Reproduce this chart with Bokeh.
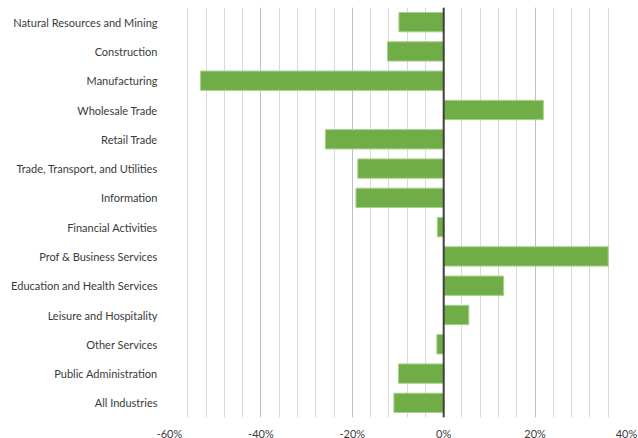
from bokeh.plotting import figure
from bokeh.models import FactorRange, Range1d, FixedTicker, NumeralTickFormatter, Span, ColumnDataSource
from bokeh.embed import file_html
from bokeh.resources import INLINE

categories = [
    "Natural Resources and Mining", "Construction", "Manufacturing", "Wholesale Trade",
    "Retail Trade", "Trade, Transport, and Utilities", "Information", "Financial Activities",
    "Prof & Business Services", "Education and Health Services", "Leisure and Hospitality",
    "Other Services", "Public Administration", "All Industries",
]
values = [-0.098, -0.123, -0.532, 0.218, -0.259, -0.188, -0.192, -0.014,
          0.360, 0.131, 0.055, -0.015, -0.099, -0.109]
major_ticks = [-0.6, -0.4, -0.2, 0.0, 0.2, 0.4]
minor_ticks = [round(-0.6 + 0.04 * i, 2) for i in range(26)]

src = ColumnDataSource(dict(cat=categories, val=values))

p = figure(
    y_range=FactorRange(factors=list(reversed(categories))),
    x_range=Range1d(-0.6, 0.4),
    frame_width=457, frame_height=410,
    output_backend="svg", toolbar_location=None,
    min_border_top=7, min_border_left=169, min_border_right=12, min_border_bottom=0,
)
p.outline_line_color = None
p.background_fill_color = "white"

p.hbar(y="cat", right="val", left=0, height=0.66, source=src,
       fill_color="#70AD47", line_color="#A9D18E", line_width=1)

p.add_layout(Span(location=0, dimension="height", line_color="#404040", line_width=2))

p.xaxis.ticker = FixedTicker(ticks=major_ticks, minor_ticks=minor_ticks)
p.xaxis.formatter = NumeralTickFormatter(format="0%")
p.xgrid.grid_line_color = "#BFBFBF"
p.xgrid.minor_grid_line_color = "#D9D9D9"
p.xgrid.grid_line_width = 1
p.xgrid.minor_grid_line_width = 1
p.ygrid.grid_line_color = None

for ax in (p.xaxis, p.yaxis):
    ax.axis_line_color = None
    ax.major_tick_line_color = None
    ax.minor_tick_line_color = None
    ax.major_tick_out = 0
    ax.major_tick_in = 0
    ax.minor_tick_out = 0
    ax.minor_tick_in = 0
    ax.major_label_text_font = "Lato"
    ax.major_label_text_font_size = "11px"
    ax.major_label_text_color = "#3A3A3A"

p.xaxis.major_label_standoff = 9
p.yaxis.major_label_standoff = 12

open("out.html", "w").write(file_html(p, INLINE))
